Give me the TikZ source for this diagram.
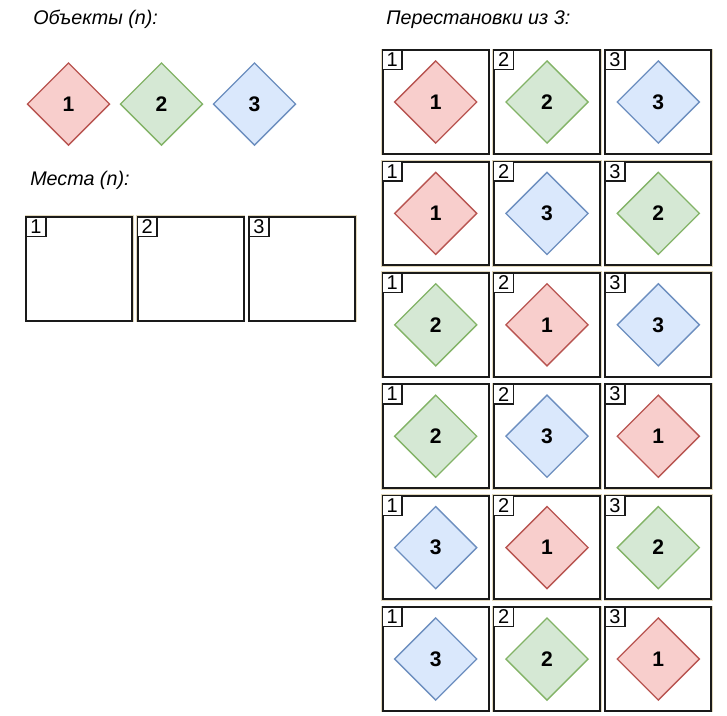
\documentclass[tikz,border=0pt]{standalone}
\usepackage{fontspec}
\setmainfont{Liberation Sans}
\usetikzlibrary{shapes.geometric}
\definecolor{fill1}{HTML}{F8CECC}\definecolor{draw1}{HTML}{B85450}
\definecolor{fill2}{HTML}{D5E8D4}\definecolor{draw2}{HTML}{82B366}
\definecolor{fill3}{HTML}{DAE8FC}\definecolor{draw3}{HTML}{6C8EBF}
\definecolor{edge}{HTML}{1A1A1A}
\definecolor{halo}{HTML}{E2D8BC}
\begin{document}
\begin{tikzpicture}[x=0.75pt,y=-0.75pt,
  dia/.style={diamond, shape aspect=1, minimum size=62pt, inner sep=0pt, line width=1pt,
    font=\bfseries\fontsize{15.8}{18}\selectfont},
  slot/.style={rectangle, minimum width=79.5pt, minimum height=77.6pt, inner sep=0pt,
    draw=edge, fill=white, line width=1.5pt, preaction={draw=halo, line width=2.4pt}},
  slotlbl/.style={rectangle, minimum size=14.8pt, inner sep=0pt, draw=edge, fill=white,
    line width=1.1pt, anchor=north west, font=\fontsize{15}{18}\selectfont},
  title/.style={anchor=base west, inner sep=0pt, font=\itshape\fontsize{14.8}{17}\selectfont}]
\useasboundingbox (0,0) rectangle (727,715);
% titles
\node[title] (t1) at (33,24) {Объекты (n):};
\node[title] (t2) at (30,185) {Места (n):};
\node[title] (t3) at (386,24) {Перестановки из 3:};
% objects
\foreach \i/\x in {1/68.5,2/161.5,3/254.5}
  \node[dia, fill=fill\i, draw=draw\i] (obj\i) at (\x,104) {\i};
% places
\foreach \i/\x in {1/79.3,2/190.5,3/302.3}{
  \node[slot] (place\i) at (\x,268.8) {};
  \node[slotlbl] (placel\i) at (place\i.north west) {\i};
}
% permutations
\foreach \r/\a/\b/\cc in {1/1/2/3,2/1/3/2,3/2/1/3,4/2/3/1,5/3/1/2,6/3/2/1}{
  \foreach \col/\v in {1/\a,2/\b,3/\cc}{
    \pgfmathsetmacro{\px}{381.7+111.3*(\col-1)+54}
    \pgfmathsetmacro{\py}{49.3+111.4*(\r-1)+52.7}
    \node[slot] (cell\r\col) at (\px,\py) {};
    \node[slotlbl] (celll\r\col) at (cell\r\col.north west) {\col};
    \node[dia, fill=fill\v, draw=draw\v] (item\r\col) at (cell\r\col.center) {\v};
  }
}
\end{tikzpicture}
\end{document}
